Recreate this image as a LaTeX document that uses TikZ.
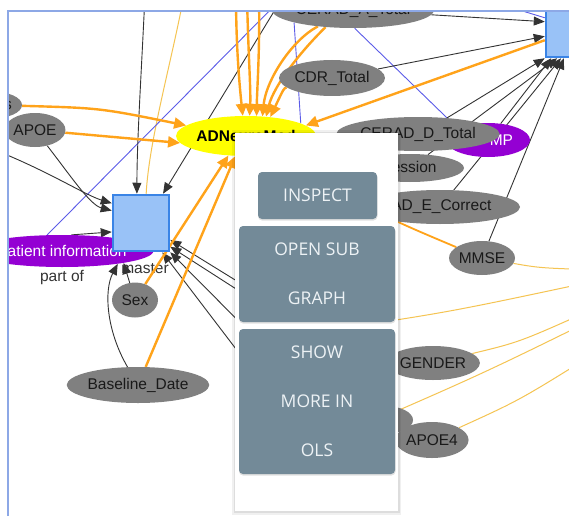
\documentclass[tikz,border=0pt]{standalone}
\usepackage{fontspec}
\setmainfont{Liberation Sans}
\newfontfamily\menufont{Open Sans}
\usetikzlibrary{shapes.geometric,arrows.meta}
\pgfdeclarelayer{edges}
\pgfsetlayers{edges,main}
\newcommand\graphlabelfont{\fontsize{15.5}{18}\selectfont}
\definecolor{nodegray}{HTML}{808080}
\definecolor{adnyellow}{HTML}{FFFF00}
\definecolor{catpurple}{HTML}{9400D3}
\definecolor{sqfill}{HTML}{99C2F7}
\definecolor{sqline}{HTML}{3A84E6}
\definecolor{frameblue}{HTML}{8DA8E6}
\definecolor{edgeor}{HTML}{FFA31A}
\definecolor{lightor}{HTML}{F5C452}
\definecolor{edgebk}{HTML}{333333}
\definecolor{edgeblue}{HTML}{5B5BE8}
\definecolor{btnfill}{HTML}{738A98}
\definecolor{btntext}{HTML}{EDF2F5}
\begin{document}
\begin{tikzpicture}[x=1pt,y=-1pt,
  grayell/.style={ellipse, fill=nodegray, inner sep=0pt, text=black!90, font=\graphlabelfont},
  catell/.style={ellipse, fill=catpurple, inner sep=0pt, text=white, font=\graphlabelfont},
  classbox/.style={rectangle, fill=sqfill, draw=sqline, line width=2.5pt, minimum size=56pt, inner sep=0pt},
  edgelabel/.style={text=edgebk, font=\graphlabelfont, inner sep=0pt},
  be/.style={draw=edgebk, line width=0.9pt, -{Triangle[length=11pt,width=9pt]}},
  oe/.style={draw=edgeor, line width=2.4pt, -{Triangle[length=12pt,width=11pt]}},
  om/.style={draw=edgeor, line width=1.8pt},
  le/.style={draw=lightor, line width=1pt},
  ue/.style={draw=edgeblue, line width=0.9pt},
  btn/.style={rectangle, rounded corners=4pt, fill=btnfill, text=btntext, align=center,
    inner sep=0pt, font=\menufont\fontsize{17.5}{49}\selectfont},
  btnshade/.style={fill=black, opacity=0.12, rounded corners=4pt}]

\useasboundingbox (0,0) rectangle (569,516);

% ---------- nodes ----------
\begin{scope}
\clip (8.5,12) rectangle (569,516);
\node[grayell, minimum width=60pt, minimum height=27pt, text width=40pt, align=right] (sn) at (-8,105) {s};
\node[grayell, minimum width=56pt, minimum height=34pt] (apoe) at (35,130) {APOE};
\node[ellipse, fill=adnyellow, minimum width=126pt, minimum height=40pt, inner sep=0pt,
      font=\graphlabelfont\bfseries] (adn) at (246,136) {ADNeuroMod};
\node[catell, minimum width=154pt, minimum height=32pt] (pat) at (62,251) {Patient information};
\node[classbox] (sqA) at (141,223) {};
\node[classbox] (sqB) at (574,29) {};
\node[grayell, minimum width=46pt, minimum height=35pt] (sex) at (135,300) {Sex};
\node[grayell, minimum width=124pt, minimum height=36pt] (bd) at (138,385) {Baseline\_Date};
\node[grayell, minimum width=134pt, minimum height=36pt] (cerA) at (353,10) {CERAD\_A\_Total};
\node[grayell, minimum width=96pt, minimum height=36pt] (cdr) at (332,78) {CDR\_Total};
\node[catell, minimum width=84pt, minimum height=34pt, text width=50pt, align=right] (mp) at (488,140) {MP};
\node[grayell, minimum width=108pt, minimum height=28pt] (dep) at (410,168) {};
\node[grayell, anchor=east, fill=none] (deptxt) at (453,168) {Depression};
\node[grayell, minimum width=132pt, minimum height=34pt] (cerD) at (418,134) {CERAD\_D\_Total};
\node[grayell, minimum width=160pt, minimum height=34pt] (cerE) at (440,207) {};
\node[grayell, anchor=east, fill=none] (cerEtxt) at (519,207) {CERAD\_E\_Correct};
\node[grayell, minimum width=66pt, minimum height=34pt] (mmse) at (482,258) {MMSE};
\node[grayell, minimum width=56pt, minimum height=28pt] (hid) at (385,420) {};
\node[grayell, minimum width=82pt, minimum height=34pt] (gender) at (433,363) {GENDER};
\node[grayell, minimum width=70pt, minimum height=36pt] (apoe4) at (432,440) {APOE4};
\end{scope}

% ---------- connectors (below the nodes) ----------
\begin{pgfonlayer}{edges}
\fill[white] (0,0) rectangle (569,516);
\begin{scope}
\clip (8.5,12) rectangle (569,516);
\coordinate (tB1) at (145,-5);
\coordinate (tB2) at (284,-5);
\coordinate (tL) at (-5,150);
\coordinate (tU1) at (285,-5);
\coordinate (tU2) at (470,-5);
\coordinate (tO1) at (236,-5);
\coordinate (tO2) at (247,-5);
\coordinate (tO3) at (259,-5);
\coordinate (tO4) at (184,-5);
\coordinate (h1) at (300,320);
\coordinate (h2) at (300,330);
\coordinate (h3) at (300,383);
\coordinate (h4) at (300,433);
\coordinate (h5) at (330,330);
\coordinate (h6) at (330,440);
\coordinate (r1) at (600,270);
\coordinate (r2) at (600,280);
\coordinate (r3) at (600,306);
\coordinate (r4) at (600,316);
\coordinate (r5) at (600,350);

% thin links
\draw[le] (tO4) .. controls (172,60) and (149,140) .. (sqA.80);
\draw[le] (mmse) .. controls (540,268) .. (r1);
\draw[le] (h5) .. controls (450,312) .. (r2);
\draw[le] (gender) .. controls (520,342) .. (r3);
\draw[le] (h6) .. controls (480,375) .. (r4);
\draw[le] (apoe4) .. controls (520,400) .. (r5);
\draw[ue] (tU1) -- (pat.133);
\draw[ue] (cerA.192) -- (adn.13);
\draw[ue] (cerA.275) -- (cerD.29);
\draw[ue] (tU2) -- (sqB.159);
\draw[om] (adn) .. controls (380,215) .. (mmse);

% edge labels
\node[edgelabel] (lblpart) at (62,277) {part of};
\node[edgelabel] (lblmaster) at (145,269) {master};

% black links
\draw[be] (tB1) .. controls (141,80) and (137,140) .. (sqA.98);
\draw[be] (tB2) -- (sqA.53);
\draw[be] (tL) .. controls (50,172) and (85,195) .. (sqA.146);
\draw[be] (apoe) .. controls (70,175) and (90,205) .. (sqA.157);
\draw[be] (pat.60) -- (sqA.197);
\draw[be] (sex) -- (pat.-11);
\draw[be] (bd) .. controls (106,330) and (104,290) .. (pat.-13);
\draw[be] (h1) -- (sqA.330);
\draw[be] (h2) -- (sqA.321);
\draw[be] (h3) -- (sqA.315);
\draw[be] (h4) -- (sqA.306);
\draw[be] (cerA) -- (sqB.166);
\draw[be] (cdr) -- (sqB.194);
\draw[be] (cerD.29) -- (sqB.225);
\draw[be] (mp) -- (sqB.232);
\draw[be] (dep) -- (sqB.240);
\draw[be] (cerE) -- (sqB.246);
\draw[be] (mmse) -- (sqB.251);

% thick links into ADNeuroMod
\draw[oe] (tO1) .. controls (236,50) and (240,90) .. (adn.99);
\draw[oe] (tO2) .. controls (248,50) and (251,90) .. (adn.80);
\draw[oe] (tO3) .. controls (260,50) and (257,90) .. (adn.62);
\draw[oe] (cerA.205) .. controls (292,40) and (266,80) .. (adn.50);
\draw[oe] (cerA.212) .. controls (302,50) and (274,85) .. (adn.44);
\draw[oe] (cdr) .. controls (284,88) .. (adn.38);
\draw[oe] (sqB.201) -- (adn.10);
\draw[oe] (sn) .. controls (100,108) .. (adn.170);
\draw[oe] (apoe) -- (adn.186);
\draw[oe] (sex) -- (adn.228);
\draw[oe] (bd) -- (adn.242);
\end{scope}
\end{pgfonlayer}

% ---------- frame ----------
\draw[frameblue, line width=2pt] (7.5,516) -- (7.5,11) -- (569,11);

% ---------- context menu ----------
\fill[black, opacity=0.06] (232,130) rectangle (401,515);
\fill[black, opacity=0.08] (233.5,131.5) rectangle (399.5,513);
\fill[white] (235,133) rectangle (398,511);
\fill[btnshade] (258,173.5) rectangle (377.5,220.5);
\fill[btnshade] (239,227.5) rectangle (395.5,323.5);
\fill[btnshade] (239,330.5) rectangle (395.5,475.5);
\node[btn, minimum width=119pt, minimum height=47pt] (inspect) at (317.5,195.5) {INSPECT};
\node[btn, minimum width=156pt, minimum height=96pt] (opensub) at (317,274) {OPEN SUB\\GRAPH};
\node[btn, minimum width=156pt, minimum height=145pt] (showols) at (317,401.5) {SHOW\\MORE IN\\OLS};
\end{tikzpicture}
\end{document}
